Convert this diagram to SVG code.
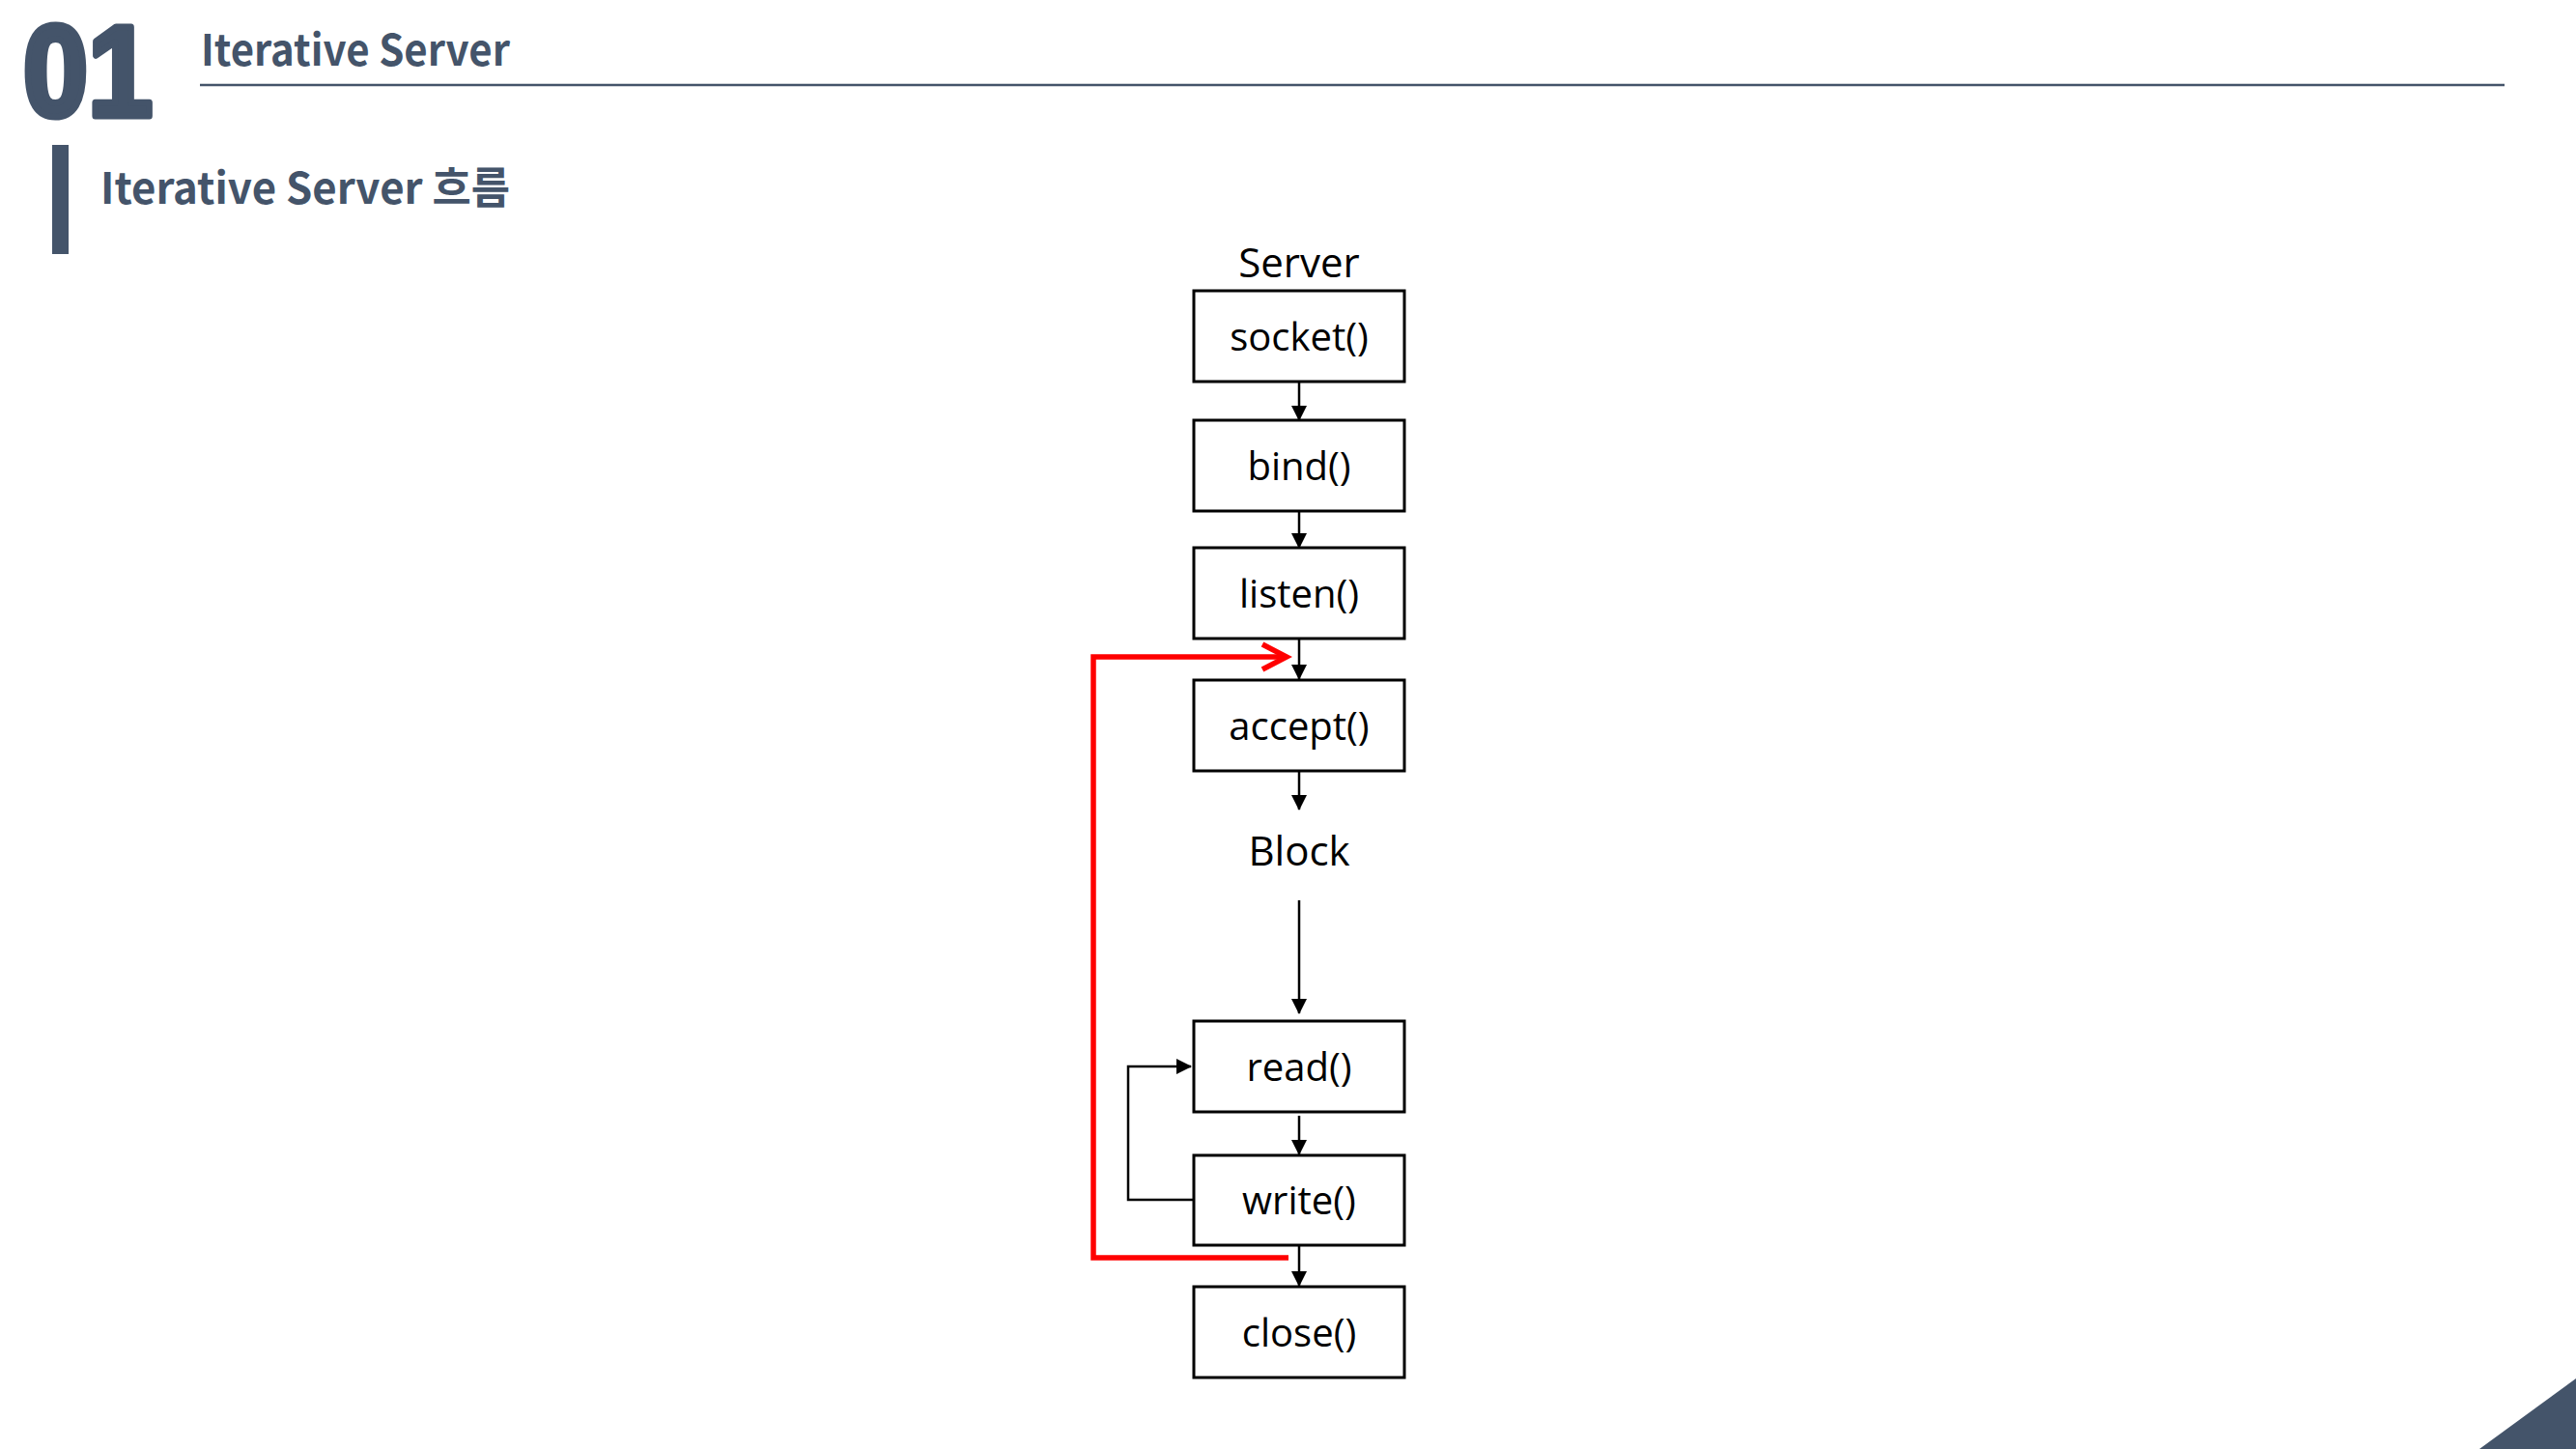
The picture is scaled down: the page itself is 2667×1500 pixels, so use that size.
<svg xmlns="http://www.w3.org/2000/svg" width="2667" height="1500" viewBox="0 0 2667 1500">
<defs>
<style>
.hd{fill:#44546A;font-family:"Noto Sans CJK KR","Liberation Sans",sans-serif;font-weight:bold;font-size:45px}
.box{fill:#FFFFFF;stroke:#000000;stroke-width:3}
.lbl{font-family:"Open Sans","Liberation Sans",sans-serif;font-size:40px;fill:#000000;text-anchor:middle}
.big{font-family:"Open Sans","Liberation Sans",sans-serif;font-size:42px;fill:#000000;text-anchor:middle}
.con{fill:none;stroke:#000000;stroke-width:2.5}
.red{fill:none;stroke:#FF0000;stroke-width:5.5}
</style>
<marker id="ah" markerWidth="16" markerHeight="16" viewBox="0 0 16 16" refX="15" refY="8" orient="auto" markerUnits="userSpaceOnUse">
<path d="M0,0 L16,8 L0,16 Z" fill="#000000"/>
</marker>
</defs>
<rect x="0" y="0" width="2667" height="1500" fill="#FFFFFF"/>
<g id="header">
<text x="24" y="120" font-family="'Liberation Sans',sans-serif" font-weight="bold" font-size="133" fill="#44546A" stroke="#44546A" stroke-width="7" stroke-linejoin="round" textLength="134" lengthAdjust="spacingAndGlyphs">01</text>
<text class="hd" x="208" y="68" textLength="320" lengthAdjust="spacingAndGlyphs">Iterative Server</text>
<line x1="207" y1="88" x2="2593" y2="88" stroke="#44546A" stroke-width="2.5"/>
<rect x="54" y="150" width="17" height="113" fill="#44546A"/>
<text class="hd" x="104" y="211" textLength="424" lengthAdjust="spacingAndGlyphs">Iterative Server 흐름</text>
<polygon points="2567,1500 2667,1427 2667,1500" fill="#44546A"/>
</g>
<g id="server-label"><text class="big" x="1345" y="287">Server</text></g>
<g id="socket"><rect class="box" x="1236" y="301" width="218" height="94"/><text class="lbl" x="1345" y="363">socket()</text></g>
<g id="bind"><rect class="box" x="1236" y="435" width="218" height="94"/><text class="lbl" x="1345" y="497">bind()</text></g>
<g id="listen"><rect class="box" x="1236" y="567" width="218" height="94"/><text class="lbl" x="1345" y="629">listen()</text></g>
<g id="accept"><rect class="box" x="1236" y="704" width="218" height="94"/><text class="lbl" x="1345" y="766">accept()</text></g>
<g id="block"><text class="big" x="1345" y="896">Block</text></g>
<g id="read"><rect class="box" x="1236" y="1057" width="218" height="94"/><text class="lbl" x="1345" y="1119">read()</text></g>
<g id="write"><rect class="box" x="1236" y="1196" width="218" height="93"/><text class="lbl" x="1345" y="1257">write()</text></g>
<g id="close"><rect class="box" x="1236" y="1332" width="218" height="94"/><text class="lbl" x="1345" y="1394">close()</text></g>
<g id="connectors">
<line class="con" x1="1345" y1="396" x2="1345" y2="435" marker-end="url(#ah)"/>
<line class="con" x1="1345" y1="530" x2="1345" y2="567" marker-end="url(#ah)"/>
<line class="con" x1="1345" y1="662" x2="1345" y2="703" marker-end="url(#ah)"/>
<line class="con" x1="1345" y1="799" x2="1345" y2="838" marker-end="url(#ah)"/>
<line class="con" x1="1345" y1="932" x2="1345" y2="1049" marker-end="url(#ah)"/>
<line class="con" x1="1345" y1="1155" x2="1345" y2="1195" marker-end="url(#ah)"/>
<line class="con" x1="1345" y1="1290" x2="1345" y2="1331" marker-end="url(#ah)"/>
<polyline class="con" points="1236,1242 1168,1242 1168,1104 1233,1104" marker-end="url(#ah)"/>
<polyline class="red" points="1334,1302 1132,1302 1132,680 1331,680"/>
<polyline class="red" points="1307,667 1332,680 1307,693"/>
</g>
</svg>
